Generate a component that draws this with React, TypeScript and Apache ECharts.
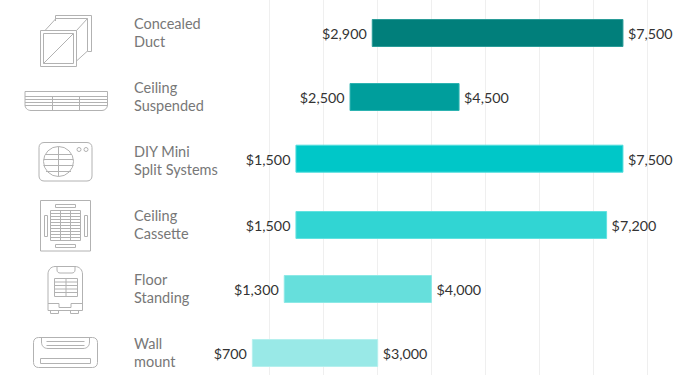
import React, { useEffect, useRef } from "react";
import * as echarts from "echarts";

const categories = [
  "Concealed\nDuct",
  "Ceiling\nSuspended",
  "DIY Mini\nSplit Systems",
  "Ceiling\nCassette",
  "Floor\nStanding",
  "Wall\nmount",
];
const lowCosts = [2900, 2500, 1500, 1500, 1300, 700];
const highCosts = [7500, 4500, 7500, 7200, 4000, 3000];
const barColors = ["#017f7b", "#009e9c", "#00c7c8", "#31d5d3", "#66dfdc", "#99e9e7"];
const borderColors = ["#2a9c98", "#2db3b1", "#4fdcdc", "#62e2e0", "#8ce9e6", "#b5f0ee"];
const gridTicks = [0, 8];

const icons: string[] = [
  "M40.5 30.5H76.5V66.5H40.5ZM43.5 33.5H73.5V63.5H43.5ZM43.5 63.5L73.5 33.5M45 30.5L55.5 19M55.5 21V15.5H91.5V51.5H87.5V18.5H55.5M76.5 30.5L87.5 18.5M76.5 61L87.5 51",
  "M25 91.5H107.5V105C107.5 108 105 110.5 102 110.5H31C27.5 110.5 25 108 25 105ZM25 96.5H107.5M25 99.5H107.5M25 102.5H107.5M25 105.5H107.5M52.5 96.5V110.5M79.5 96.5V110.5",
  "M44 142.5H87C90 142.5 92 144.5 92 147.5V176C92 179 90 181 87 181H44C41 181 39 179 39 176V147.5C39 144.5 41 142.5 44 142.5ZM43.5 161.5A15 15 0 1 0 73.5 161.5A15 15 0 1 0 43.5 161.5ZM58.5 146.5V176.5M45.5 154.5H71.5M43.5 159.5H73.5M43.5 165.5H73.5M46 171.5H71M77 149.5A2 2 0 1 0 81 149.5A2 2 0 1 0 77 149.5ZM84 149.5A2 2 0 1 0 88 149.5A2 2 0 1 0 84 149.5Z",
  "M40.5 200.5H90.5V251H40.5ZM50.5 210.5H80.5V240.5H50.5ZM60.5 210.5V240.5M70.5 210.5V240.5M50.5 213.5H80.5M50.5 216.5H80.5M50.5 219.5H80.5M50.5 222.5H80.5M50.5 225.5H80.5M50.5 228.5H80.5M50.5 231.5H80.5M50.5 234.5H80.5M50.5 237.5H80.5M55.5 204.5H75.5V207.5H55.5ZM55.5 244.5H75.5V247.5H55.5ZM44.5 215.5H47.5V236.5H44.5ZM84.5 215.5H87.5V236.5H84.5Z",
  "M55 266.5H75C79.5 266.5 82.5 270 82.5 274V310.5H48V274C48 270 51 266.5 55 266.5ZM57 266.5V270C57 272 58.5 273 60 273H72C73.5 273 75 272 75 270V266.5M54.5 278.5H77.5V296.5H54.5ZM66 278.5V296.5M54.5 282H77.5M54.5 285.5H77.5M54.5 289H77.5M54.5 292.5H77.5M48 303.5H59V307.5H71V303.5H82.5M50.5 310.5V313.5H58.5V310.5M70.5 310.5V313.5H78.5V310.5",
  "M38.5 337.5H92.5C95.5 337.5 97.5 339.5 97.5 342.5V362.5C97.5 365.5 95.5 367.5 92.5 367.5H38.5C35.5 367.5 33.5 365.5 33.5 362.5V342.5C33.5 339.5 35.5 337.5 38.5 337.5ZM41.5 337.5V342C41.5 346 44 348.5 48 348.5H83C87 348.5 89.5 346 89.5 342V337.5M46.5 341.5H84.5M46.5 345.5H84.5M40.5 358.5H90.5V363.5H40.5Z",
];

const FONT = "Lato";
const rowNudge = [1, 1, -1.3, 1, 1, 1];
const rowShift = [0, -0.4, 0, 0, -0.8, 0];

export default function App() {
  const ref = useRef<HTMLDivElement>(null);
  useEffect(() => {
    document.body.style.margin = "0";
    icons.forEach((d, i) => {
      echarts.graphic.registerShape("icon" + i, echarts.graphic.extendPath(d, {}));
    });
    const chart = echarts.init(ref.current!, undefined, { renderer: "svg" });
    chart.setOption({
      animation: false,
      backgroundColor: "#fff",
      grid: [
        { left: 214.2, width: 436, top: 0, height: 384, outerBoundsMode: "none" },
        { left: 215.5, width: 432, top: 0, height: 375, outerBoundsMode: "none" },
      ],
      xAxis: [
        { type: "value", gridIndex: 0, min: 0, max: 8000, show: false },
        {
          type: "value",
          gridIndex: 1,
          min: gridTicks[0],
          max: gridTicks[1],
          interval: 1,
          axisLine: { show: false },
          axisTick: { show: false },
          axisLabel: { show: false },
          splitLine: { show: true, showMinLine: false, lineStyle: { color: "#efefef", width: 1 } },
        },
      ],
      yAxis: [
        {
          type: "category",
          gridIndex: 0,
          inverse: true,
          data: categories,
          axisLine: { show: false },
          axisTick: { show: false },
          splitLine: { show: false },
          axisLabel: {
            margin: 80.2,
            align: "left",
            color: "#777777",
            fontFamily: FONT,
            fontSize: 14.5,
            lineHeight: 18,
          },
        },
        { type: "value", gridIndex: 1, show: false },
      ],
      graphic: icons.map((_, i) => ({
        type: "icon" + i,
        x: 0,
        y: 0,
        silent: true,
        style: { fill: "none", stroke: "#b2b2b2", lineWidth: 1 },
      })),
      series: [
        {
          type: "custom",
          xAxisIndex: 0,
          yAxisIndex: 0,
          clip: false,
          data: categories.map((_, i) => [i, lowCosts[i], highCosts[i]]),
          encode: { y: 0, x: [1, 2] },
          renderItem: (params: any, api: any) => {
            const row = api.value(0);
            const [xa, cy0] = api.coord([api.value(1), row]);
            const [xb] = api.coord([api.value(2), row]);
            const x0 = xa + rowShift[row];
            const x1 = xb + rowShift[row];
            const cy = cy0 + rowNudge[row];
            const h = 27;
            const label = (v: number) => "$" + v.toLocaleString("en-US");
            const font = `14.3px ${FONT}`;
            return {
              type: "group",
              children: [
                {
                  type: "rect",
                  shape: { x: x0, y: cy - h / 2, width: x1 - x0, height: h },
                  style: { fill: barColors[row], stroke: borderColors[row], lineWidth: 1 },
                },
                {
                  type: "text",
                  style: {
                    text: label(api.value(1)),
                    x: x0 - 5.5,
                    y: cy + 0.7,
                    align: "right",
                    verticalAlign: "middle",
                    fill: "#333333",
                    font,
                  },
                },
                {
                  type: "text",
                  style: {
                    text: label(api.value(2)),
                    x: x1 + 5,
                    y: cy + 0.7,
                    align: "left",
                    verticalAlign: "middle",
                    fill: "#333333",
                    font,
                  },
                },
              ],
            };
          },
        },
      ],
    });
    return () => chart.dispose();
  }, []);
  return <div ref={ref} style={{ width: 700, height: 375 }} />;
}
